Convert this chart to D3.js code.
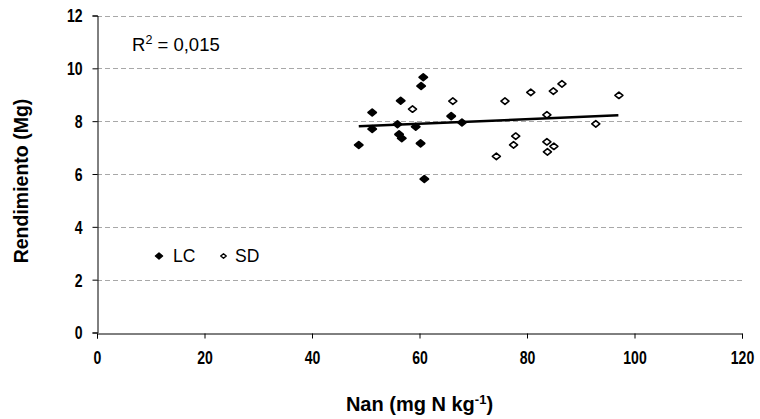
<!DOCTYPE html>
<html>
<head>
<meta charset="utf-8">
<script src="https://cdn.jsdelivr.net/npm/d3@7"></script>
<style>
  html, body { margin: 0; padding: 0; background: #fff; }
  svg text { font-family: "Liberation Sans", Arial, sans-serif; fill: #000; }
  .tick-lbl { font-weight: bold; font-size: 18px; }
  .grid line { stroke: #a8a8a8; stroke-dasharray: 5,3; }
</style>
</head>
<body>
<div id="chart"></div>
<script>
// LC (filled) points
var lcX = [60.7, 60.3, 56.5, 51.2, 65.9, 67.9, 51.2, 55.9, 59.3, 56.2, 56.7, 48.7, 60.2, 60.9];
var lcY = [9.66, 9.33, 8.77, 8.33, 8.19, 7.95, 7.70, 7.88, 7.79, 7.50, 7.35, 7.10, 7.16, 5.81];
// SD (open) points
var sdX = [58.7, 66.2, 75.9, 80.7, 84.9, 86.5, 97.1, 83.7, 92.8, 77.9, 77.5, 74.3, 83.7, 85.0, 83.8];
var sdY = [8.46, 8.76, 8.76, 9.09, 9.14, 9.41, 8.98, 8.24, 7.90, 7.43, 7.10, 6.67, 7.22, 7.05, 6.84];
// trend line ends
var trendX = [48.7, 97];
var trendY = [7.81, 8.22];
var xTicks = [0, 20, 40, 60, 80, 100, 120];
var yTicks = [0, 2, 4, 6, 8, 10, 12];
var gridTicks = [2, 4, 6, 8, 10, 12];

!(function () {
  var W = 760, H = 419,
      m = { top: 15.5, right: 18, bottom: 86.5, left: 97 };

  var svg = d3.select('#chart').append('svg')
    .attr('width', W)
    .attr('height', H);

  var x = d3.scaleLinear().domain([0, 120]).range([m.left, W - m.right]);
  var y = d3.scaleLinear().domain([0, 12]).range([H - m.bottom, m.top]);

  // dashed grid
  svg.append('g')
    .attr('class', 'grid')
    .selectAll('line')
    .data(gridTicks)
    .enter().append('line')
    .attr('x1', x(0))
    .attr('x2', x(120))
    .attr('y1', function (d) { return Math.round(y(d)) + 0.5; })
    .attr('y2', function (d) { return Math.round(y(d)) + 0.5; });

  var xAxis = svg.append('g')
    .attr('transform', 'translate(0,' + (Math.round(y(0)) + 0.5) + ')')
    .call(d3.axisBottom(x).tickValues(xTicks).tickSize(5).tickPadding(13));
  var yAxis = svg.append('g')
    .attr('transform', 'translate(' + (Math.round(x(0)) + 0.5) + ',0)')
    .call(d3.axisLeft(y).tickValues(yTicks).tickSize(5).tickPadding(11));

  [xAxis, yAxis].forEach(function (a) {
    a.select('.domain').attr('stroke', '#000');
    a.selectAll('.tick line').attr('stroke', '#000');
    a.selectAll('.tick text').attr('class', 'tick-lbl').attr('font-size', null).attr('font-family', null);
  });
  // narrow bold look of the tick numbers
  xAxis.selectAll('.tick text').attr('transform', 'scale(0.78,1)');
  yAxis.selectAll('.tick text')
    .attr('dy', '0.36em')
    .attr('x', 0)
    .attr('transform', 'translate(-15,0) scale(0.78,1)');

  var diamond = function (w, h) {
    return 'M0,' + (-h / 2) + 'L' + (w / 2) + ',0L0,' + (h / 2) + 'L' + (-w / 2) + ',0Z';
  };

  // trend line
  svg.append('line')
    .attr('x1', x(trendX[0]))
    .attr('y1', y(trendY[0]))
    .attr('x2', x(trendX[1]))
    .attr('y2', y(trendY[1]))
    .attr('stroke', '#000')
    .attr('stroke-width', 2.5);

  svg.append('g').selectAll('path')
    .data(d3.range(sdX.length))
    .enter().append('path')
    .attr('d', diamond(8, 6.5))
    .attr('transform', function (i) { return 'translate(' + x(sdX[i]) + ',' + y(sdY[i]) + ')'; })
    .attr('fill', '#fff')
    .attr('stroke', '#000')
    .attr('stroke-width', 1.6)
    .attr('stroke-linejoin', 'round');

  svg.append('g').selectAll('path')
    .data(d3.range(lcX.length))
    .enter().append('path')
    .attr('d', diamond(8, 6.5))
    .attr('transform', function (i) { return 'translate(' + x(lcX[i]) + ',' + y(lcY[i]) + ')'; })
    .attr('fill', '#000')
    .attr('stroke', '#000')
    .attr('stroke-width', 2)
    .attr('stroke-linejoin', 'round');

  // R2 label
  var r2 = svg.append('text')
    .attr('x', 132)
    .attr('y', 51)
    .attr('font-size', 18.5);
  r2.append('tspan').text('R');
  r2.append('tspan').attr('dy', -7).attr('font-size', 12.5).text('2');
  r2.append('tspan').attr('dy', 7).text(' = 0,015');

  // legend
  svg.append('path').attr('d', diamond(7, 6)).attr('transform', 'translate(159,256)')
    .attr('fill', '#000').attr('stroke', '#000').attr('stroke-width', 1.5).attr('stroke-linejoin', 'round');
  svg.append('text').attr('x', 173).attr('y', 262).attr('font-size', 17.5).text('LC');
  svg.append('path').attr('d', diamond(5.5, 4.5)).attr('transform', 'translate(223.5,256)')
    .attr('fill', '#fff').attr('stroke', '#000').attr('stroke-width', 1.4).attr('stroke-linejoin', 'round');
  svg.append('text').attr('x', 235).attr('y', 262).attr('font-size', 17.5).text('SD');

  // axis titles
  var xt = svg.append('text')
    .attr('x', (x(0) + x(120)) / 2)
    .attr('y', 411)
    .attr('text-anchor', 'middle')
    .attr('font-size', 20)
    .attr('font-weight', 'bold');
  xt.append('tspan').text('Nan (mg N kg');
  xt.append('tspan').attr('dy', -7).attr('font-size', 13).text('-1');
  xt.append('tspan').attr('dy', 7).text(')');

  svg.append('text')
    .attr('transform', 'translate(28,' + ((y(0) + y(12)) / 2 + 7) + ') rotate(-90)')
    .attr('text-anchor', 'middle')
    .attr('font-size', 19.5)
    .attr('font-weight', 'bold')
    .text('Rendimiento (Mg)');
})();
</script>
</body>
</html>
